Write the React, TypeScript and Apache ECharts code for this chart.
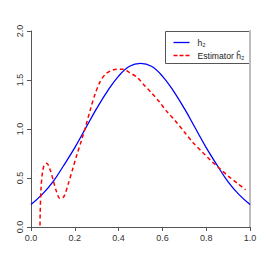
import React, { useEffect, useRef } from "react";
import * as echarts from "echarts";

const xTicks = [0, 0.2, 0.4, 0.6, 0.8, 1.0];
const yTicks = [0, 0.5, 1.0, 1.5, 2.0];

const trueX = [0, 0.05, 0.1, 0.15, 0.2, 0.25, 0.3, 0.35, 0.4, 0.45, 0.5, 0.55, 0.6, 0.65, 0.7, 0.75, 0.8, 0.85, 0.9, 0.95, 1.0];
const trueY = [0.23, 0.33, 0.46, 0.63, 0.81, 1.01, 1.21, 1.39, 1.54, 1.64, 1.67, 1.64, 1.54, 1.39, 1.21, 1.01, 0.81, 0.63, 0.46, 0.33, 0.23];

const estX = [0.04, 0.042, 0.046, 0.052, 0.06, 0.072, 0.085, 0.1, 0.115, 0.132, 0.15, 0.17, 0.19, 0.21, 0.23, 0.25, 0.27, 0.29, 0.315, 0.34, 0.365, 0.39, 0.42, 0.45, 0.483, 0.52, 0.55, 0.585, 0.62, 0.66, 0.7, 0.74, 0.78, 0.82, 0.86, 0.9, 0.94, 0.98];
const estY = [-0.2, 0.15, 0.4, 0.55, 0.63, 0.65, 0.6, 0.49, 0.37, 0.29, 0.31, 0.44, 0.59, 0.74, 0.88, 1.03, 1.19, 1.34, 1.48, 1.56, 1.595, 1.61, 1.61, 1.575, 1.53, 1.44, 1.37, 1.28, 1.18, 1.08, 0.97, 0.86, 0.77, 0.68, 0.6, 0.52, 0.45, 0.38];

const seriesNames = ["h₂", "Estimator ĥ₂"];
const seriesColors = ["#0000ff", "#ff0000"];

export default function App() {
  const ref = useRef<HTMLDivElement>(null);
  useEffect(() => {
    if (!ref.current) return;
    const chart = echarts.init(ref.current, undefined, { renderer: "svg" });
    const font = "'Liberation Sans', Arial, sans-serif";
    chart.setOption({
      animation: false,
      backgroundColor: "#ffffff",
      grid: { left: 31, right: 16, top: 31, bottom: 39, containLabel: false },
      graphic: [
        {
          type: "group",
          left: 165,
          top: 31,
          z: 100,
          children: [
            {
              type: "rect",
              shape: { x: 0, y: 0, width: 85, height: 32 },
              style: { fill: "#fff", stroke: "#555", lineWidth: 1 },
            },
            {
              type: "line",
              shape: { x1: 8, y1: 11, x2: 24, y2: 11 },
              style: { stroke: seriesColors[0], lineWidth: 1.3 },
            },
            {
              type: "line",
              shape: { x1: 8, y1: 24, x2: 24, y2: 24 },
              style: { stroke: seriesColors[1], lineWidth: 1.5, lineDash: [4, 2] },
            },
            {
              type: "text",
              x: 32,
              y: 11,
              style: { text: seriesNames[0], font: `8.6px ${font}`, fill: "#222", verticalAlign: "middle", align: "left" },
            },
            {
              type: "text",
              x: 32,
              y: 24,
              style: { text: seriesNames[1], font: `8.6px ${font}`, fill: "#222", verticalAlign: "middle", align: "left" },
            },
          ],
        },
      ],
      xAxis: {
        type: "value",
        min: 0,
        max: 1,
        interval: 0.2,
        splitLine: { show: false },
        axisLine: { show: true, onZero: false, lineStyle: { color: "#555", width: 1 } },
        axisTick: { show: true, length: 4, lineStyle: { color: "#555" } },
        axisLabel: {
          fontFamily: font,
          fontSize: 9,
          color: "#333",
          margin: 6,
          formatter: (v: number) => v.toFixed(1),
        },
      },
      yAxis: [
        {
          type: "value",
          min: 0,
          max: 2,
          interval: 0.5,
          splitLine: { show: false },
          axisLine: { show: true, lineStyle: { color: "#555", width: 1 } },
          axisTick: { show: true, length: 4, lineStyle: { color: "#555" } },
          axisLabel: {
            fontFamily: font,
            fontSize: 9,
            color: "#333",
            rotate: 90,
            margin: 7,
            formatter: (v: number) => v.toFixed(1),
          },
        },
        {
          type: "value",
          position: "right",
          min: 0,
          max: 2,
          interval: 0.5,
          splitLine: { show: false },
          axisLine: { show: true, lineStyle: { color: "#bdbdbd", width: 2 } },
          axisTick: { show: false },
          axisLabel: { show: false },
        },
      ],
      series: [
        {
          name: seriesNames[0],
          type: "line",
          data: trueX.map((x, i) => [x, trueY[i]]),
          smooth: 0.4,
          symbol: "none",
          clip: true,
          lineStyle: { color: seriesColors[0], width: 1.3 },
          itemStyle: { color: seriesColors[0] },
        },
        {
          name: seriesNames[1],
          type: "line",
          data: estX.map((x, i) => [x, estY[i]]),
          smooth: 0.3,
          symbol: "none",
          clip: true,
          lineStyle: { color: seriesColors[1], width: 1.5, type: [4, 3] },
          itemStyle: { color: seriesColors[1] },
        },
      ],
    });
    return () => chart.dispose();
  }, []);
  return (
    <div
      ref={ref}
      style={{ position: "fixed", left: 0, top: 0, width: 266, height: 266, background: "#fff" }}
    />
  );
}
